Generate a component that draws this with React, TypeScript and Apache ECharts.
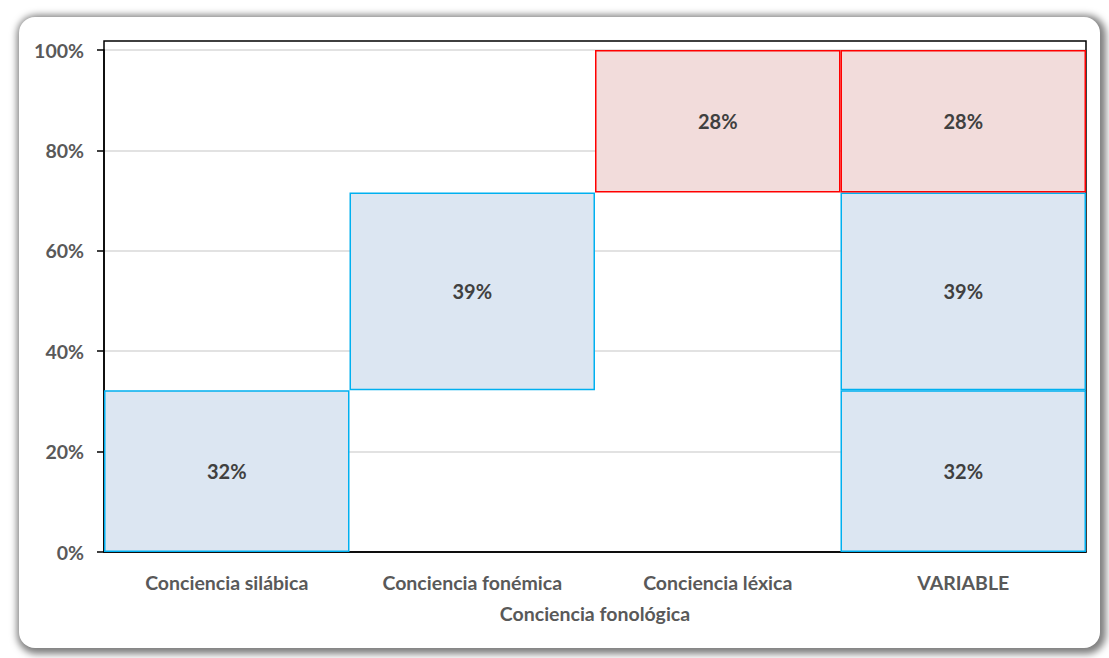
import React, { useEffect, useRef } from "react";
import * as echarts from "echarts";

const categories = ["Conciencia silábica", "Conciencia fonémica", "Conciencia léxica", "VARIABLE"];
const components = [32.2, 39.4, 28.4];
const componentColors = ["blue", "blue", "red"];
const yTicks = [0, 20, 40, 60, 80, 100];
const xAxisTitle = "Conciencia fonológica";

const FONT = "Lato, 'Open Sans', sans-serif";
const LABEL_GRAY = "#595959";

export default function App() {
  const ref = useRef<HTMLDivElement>(null);

  useEffect(() => {
    if (!ref.current) return;
    const chart = echarts.init(ref.current, null, { renderer: "svg" });

    const n = categories.length;
    const last = n - 1;
    const base: (number | string)[] = [];
    let cum = 0;
    for (let i = 0; i < components.length; i++) {
      base.push(cum);
      cum += components[i];
    }
    base.push(0);

    const palette: Record<string, { fill: string; border: string }> = {
      blue: { fill: "#DCE6F2", border: "#00B0F0" },
      red: { fill: "#F2DCDB", border: "#FF0000" },
    };

    const segSeries = components.map((v, i) => {
      const data: (number | string)[] = categories.map((_, j) => (j === i || j === last ? v : "-"));
      const c = palette[componentColors[i]];
      return {
        type: "bar",
        stack: "w",
        name: categories[i],
        data,
        barCategoryGap: "0%",
        barGap: "0%",
        itemStyle: { color: c.fill, borderColor: c.border, borderWidth: 1.5 },
        label: {
          show: true,
          position: "inside",
          color: "#404040",
          fontFamily: FONT,
          fontWeight: "bold",
          fontSize: 20,
          formatter: (p: any) => Math.round(p.value) + "%",
        },
        z: 3,
      };
    });

    const option: any = {
      animation: false,
      grid: { left: 104, right: 23, top: 50, bottom: 106, containLabel: false },
      xAxis: {
        type: "category",
        data: categories,
        axisLine: { show: true, lineStyle: { color: "#000", width: 1.5 } },
        axisTick: { show: false },
        axisLabel: { color: LABEL_GRAY, fontFamily: FONT, fontWeight: "bold", fontSize: 19.5, margin: 20 },
        name: xAxisTitle,
        nameLocation: "middle",
        nameGap: 51,
        nameTextStyle: { color: LABEL_GRAY, fontFamily: FONT, fontWeight: "bold", fontSize: 19.5 },
      },
      yAxis: {
        type: "value",
        min: yTicks[0],
        max: yTicks[yTicks.length - 1],
        interval: yTicks[1] - yTicks[0],
        axisLine: { show: true, lineStyle: { color: "#000", width: 1.5 } },
        axisTick: { show: true, inside: false, length: 7, lineStyle: { color: "#000", width: 1.5 } },
        axisLabel: {
          color: LABEL_GRAY,
          fontFamily: FONT,
          fontWeight: "bold",
          fontSize: 19.5,
          margin: 20,
          formatter: "{value}%",
        },
        splitLine: { show: true, lineStyle: { color: "#D9D9D9", width: 1.5 } },
      },
      series: [
        {
          type: "bar",
          stack: "w",
          name: "base",
          data: base,
          barCategoryGap: "0%",
          itemStyle: { color: "transparent", borderWidth: 0 },
          label: { show: false },
          silent: true,
          z: 2,
        },
        ...segSeries,
      ],
      graphic: [
        {
          type: "rect",
          shape: { x: 104, y: 41, width: 982, height: 511 },
          style: { fill: "none", stroke: "#000", lineWidth: 1.5 },
          silent: true,
          z: 1,
        },
      ],
    };

    chart.setOption(option);
    return () => chart.dispose();
  }, []);

  return (
    <div style={{ position: "fixed", left: 0, top: 0, width: 1109, height: 658, background: "#fff", overflow: "hidden" }}>
      <div
        style={{
          position: "absolute",
          left: 19,
          top: 17,
          width: 1081,
          height: 631,
          borderRadius: 16,
          background: "#fff",
          boxShadow: "2px 2px 7px 4px rgba(0,0,0,0.5)",
        }}
      />
      <div ref={ref} style={{ position: "absolute", left: 0, top: 0, width: 1109, height: 658 }} />
    </div>
  );
}
